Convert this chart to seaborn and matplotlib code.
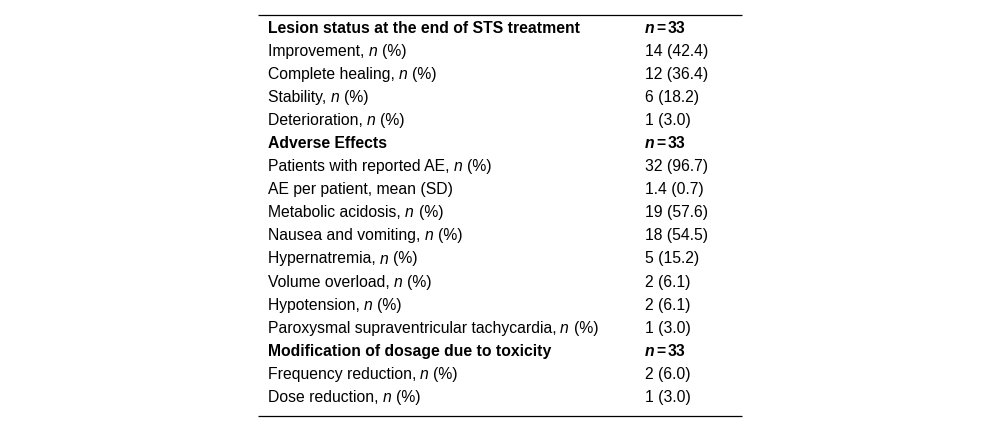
import matplotlib
matplotlib.use("Agg")
import matplotlib.pyplot as plt
import seaborn as sns
from matplotlib import font_manager, ft2font
from matplotlib.font_manager import FontProperties

# ---- data ----
labels = [
    "Lesion status at the end of STS treatment",
    "Improvement, n (%)",
    "Complete healing, n (%)",
    "Stability, n (%)",
    "Deterioration, n (%)",
    "Adverse Effects",
    "Patients with reported AE, n (%)",
    "AE per patient, mean (SD)",
    "Metabolic acidosis, n (%)",
    "Nausea and vomiting, n (%)",
    "Hypernatremia, n (%)",
    "Volume overload, n (%)",
    "Hypotension, n (%)",
    "Paroxysmal supraventricular tachycardia, n (%)",
    "Modification of dosage due to toxicity",
    "Frequency reduction, n (%)",
    "Dose reduction, n (%)",
]
values = [
    "n = 33", "14 (42.4)", "12 (36.4)", "6 (18.2)", "1 (3.0)",
    "n = 33", "32 (96.7)", "1.4 (0.7)", "19 (57.6)", "18 (54.5)",
    "5 (15.2)", "2 (6.1)", "2 (6.1)", "1 (3.0)",
    "n = 33", "2 (6.0)", "1 (3.0)",
]
is_header = [True, False, False, False, False,
             True, False, False, False, False, False, False, False, False,
             True, False, False]

sns.set_theme(style="white")
plt.rcParams['font.family'] = ['Liberation Sans', 'DejaVu Sans']

FS = 11.3
DPI = 100
fig = plt.figure(figsize=(10, 4.32), dpi=DPI)
ax = fig.add_axes([0, 0, 1, 1])
ax.set_xlim(0, 1000)
ax.set_ylim(432, 0)
ax.axis('off')

_fonts = {}


def get_font(style, weight):
    key = (style, weight)
    if key not in _fonts:
        path = font_manager.findfont(FontProperties(family='Liberation Sans',
                                                    style=style, weight=weight))
        f = ft2font.FT2Font(path)
        f.set_size(FS, DPI)
        _fonts[key] = f
    return _fonts[key]


def advance(s, style, weight):
    f = get_font(style, weight)
    kd = getattr(ft2font, 'Kerning', None)
    kmode = kd.DEFAULT if kd is not None else ft2font.KERNING_DEFAULT
    total = 0.0
    prev = None
    for c in s:
        gi = f.get_char_index(ord(c))
        if prev is not None:
            total += f.get_kerning(prev, gi, kmode) / 64.0
        g = f.load_char(ord(c), flags=ft2font.LoadFlags.NO_HINTING
                        if hasattr(ft2font, 'LoadFlags') else 0)
        total += g.linearHoriAdvance / 65536.0
        prev = gi
    return total


def draw_runs(x, y, runs):
    for txt, style, weight, gap in runs:
        ax.text(x, y, txt, fontsize=FS, fontstyle=style, fontweight=weight,
                va='baseline', ha='left', color='black')
        x += advance(txt, style, weight) + gap


def label_runs(s, header):
    w = 'bold' if header else 'normal'
    suffix = ", n (%)"
    if s.endswith(suffix):
        head = s[:-len(suffix)] + ", "
        return [(head, 'normal', w, 0), ("n ", 'italic', w, 0), ("(%)", 'normal', w, 0)]
    return [(s, 'normal', w, 0)]


def value_runs(s, header):
    if s.startswith("n = "):
        return [("n", 'italic', 'bold', 1.8), ("=", 'normal', 'bold', 1.8),
                (s[4:], 'normal', 'bold', 0)]
    return [(s, 'normal', 'normal', 0)]


x_left, x_val = 268, 645
y0, dy = 33, 23.05
for i, (lab, val, hdr) in enumerate(zip(labels, values, is_header)):
    y = y0 + i * dy
    draw_runs(x_left, y, label_runs(lab, hdr))
    draw_runs(x_val, y, value_runs(val, hdr))

ax.hlines([15, 416], 258, 742, colors='black', linewidth=0.9)

fig.savefig("out.png", dpi=DPI)
